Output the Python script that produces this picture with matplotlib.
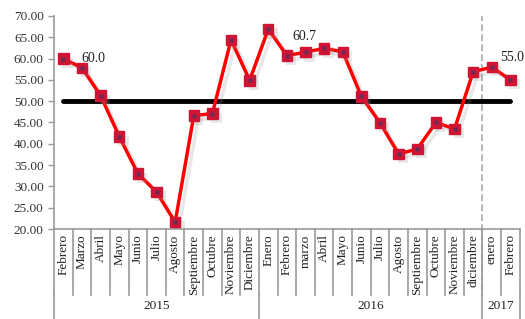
import matplotlib.pyplot as plt
import matplotlib.patheffects as pe

months = ["Febrero", "Marzo", "Abril", "Mayo", "Junio", "Julio", "Agosto",
          "Septiembre", "Octubre", "Noviembre", "Diciembre",
          "Enero", "Febrero", "marzo", "Abril", "Mayo", "Junio", "Julio",
          "Agosto", "Septiembre", "Octubre", "Noviembre", "diciembre",
          "enero", "Febrero"]
years = ["2015", "2016", "2017"]
year_counts = [11, 12, 2]
values = [60.0, 57.8, 51.3, 41.7, 33.0, 28.7, 21.6, 46.6, 47.1, 64.4, 54.9,
          66.9, 60.7, 61.5, 62.4, 61.6, 51.1, 44.9, 37.6, 38.8, 45.0, 43.5, 56.9,
          58.0, 55.0]
threshold = 50
labeled = {0: (18, 0, "left", "center"),
           12: (17, 19, "center", "center"),
           24: (-10, 22, "left", "center")}

plt.rcParams["font.family"] = "Liberation Serif"
fig = plt.figure(figsize=(5.25, 3.19), dpi=100)
ax = fig.add_axes([0.103, 0.282, 0.887, 0.668])

n = len(values)
x = list(range(n))
ax.set_xlim(-0.5, n - 0.5)
ax.set_ylim(20, 70)
ax.set_yticks(range(20, 71, 5))
ax.set_yticklabels([f"{v:.2f}" for v in range(20, 71, 5)], fontsize=9.5, color="#333333")
ax.tick_params(axis="y", length=4, color="#999999", width=1)

for s in ["top", "right"]:
    ax.spines[s].set_visible(False)
for s in ["left", "bottom"]:
    ax.spines[s].set_color("#999999")
    ax.spines[s].set_linewidth(1.2)

# threshold line
ax.plot([0, n - 1], [threshold, threshold], color="black", lw=3.5,
        solid_capstyle="round", zorder=2)

# series with soft shadow
ax.plot(x, values, color="#ff0000", lw=2.5, zorder=3,
        path_effects=[pe.SimpleLineShadow(offset=(3, -3), shadow_color="#999999", alpha=0.22),
                      pe.Normal()])
ax.plot(x, values, ls="none", marker="s", ms=7.5, mfc="#d21434", mec="#d21434",
        zorder=4, path_effects=[pe.SimplePatchShadow(offset=(3, -3), shadow_rgbFace="#999999",
                                                     alpha=0.22), pe.Normal()])
ax.plot(x, values, ls="none", marker="s", ms=2.5, mfc="#6a2a55", mec="none", zorder=5)

for i, (dx, dy, ha, va) in labeled.items():
    ax.annotate(f"{values[i]:.1f}", (i, values[i]), xytext=(dx, dy),
                textcoords="offset pixels", ha=ha, va=va, fontsize=10,
                color="#222222", annotation_clip=False)

# category axis
ax.set_xticks([])
trans = ax.get_xaxis_transform()
sep_col = "#999999"
for i in range(n + 1):
    ax.plot([i - 0.5, i - 0.5], [0, -0.31], transform=trans, color=sep_col,
            lw=1.2, clip_on=False)
for i, m in enumerate(months):
    ax.text(i, -0.025, m, transform=trans, rotation=90, ha="center", va="top",
            fontsize=9.5, color="#222222")

start = 0
edges = [0]
for y, c in zip(years, year_counts):
    ax.text(start + c / 2 - 0.5, -0.36, y, transform=trans, ha="center",
            va="center", fontsize=9.5, color="#222222")
    start += c
    edges.append(start)
for e in edges:
    ax.plot([e - 0.5, e - 0.5], [-0.31, -0.42], transform=trans, color=sep_col,
            lw=1.2, clip_on=False)

# dashed separator for the new year
ax.plot([22.45, 22.45], [-0.29, 1.0], transform=trans, color="#aaaaaa", lw=1.2,
        ls=(0, (4, 2)), clip_on=False, zorder=1)

fig.savefig("out.png", dpi=100)
